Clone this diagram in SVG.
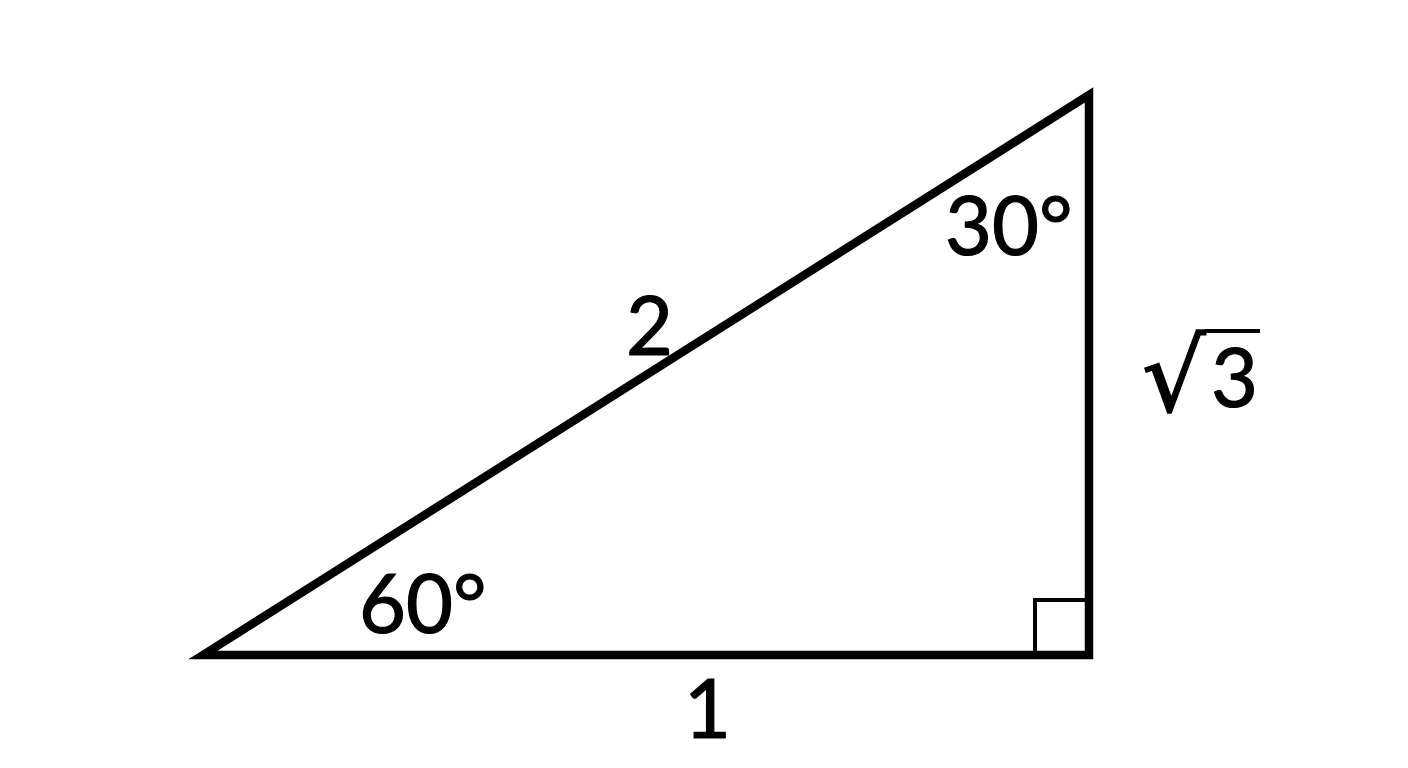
<svg xmlns="http://www.w3.org/2000/svg" width="1408" height="768" viewBox="0 0 1408 768">
<style>
.lbl{font-family:Lato,"Open Sans",sans-serif;font-size:81px;fill:#000;stroke:#000;stroke-width:1.2}
.edge{fill:none;stroke:#000;stroke-width:8.5;stroke-linejoin:miter}
</style>
<rect width="1408" height="768" fill="#fff"/>
<g id="connectors">
<polygon class="edge" points="203,655 1089,95 1089,655"/>
<polyline id="right-angle" points="1035,651 1035,600 1085,600" fill="none" stroke="#000" stroke-width="4"/>
</g>
<g id="labels">
<text class="lbl" x="359" y="633">60°</text>
<text class="lbl" x="945" y="255">30°</text>
<text class="lbl" x="626" y="355">2</text>
<text class="lbl" x="684" y="738">1</text>
<text x="1142" y="411" style="font-family:'DejaVu Sans',sans-serif;font-size:100px;fill:#000;stroke:#000;stroke-width:1.5">√</text>
<line x1="1205" y1="331" x2="1260" y2="331" stroke="#000" stroke-width="4"/>
<text class="lbl" x="1211" y="407">3</text>
</g>
</svg>
